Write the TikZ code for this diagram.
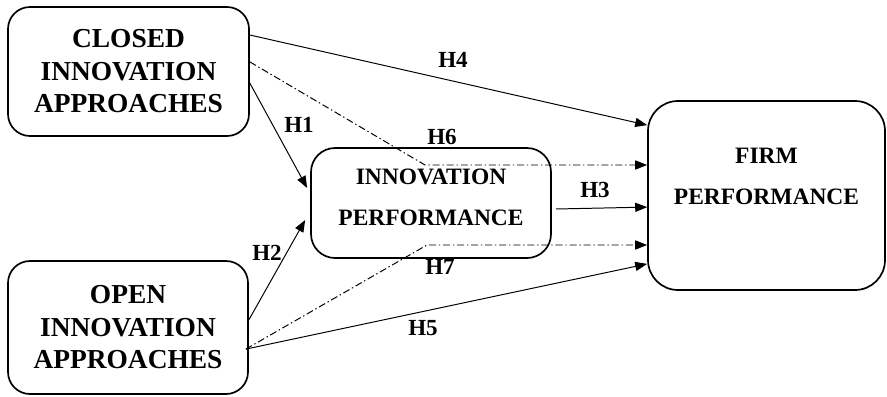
\documentclass[tikz,border=0pt]{standalone}
\usepackage{fontspec}
\setmainfont{Liberation Serif}
\usetikzlibrary{positioning,arrows.meta,calc}

\begin{document}
\begin{tikzpicture}[
  box/.style={draw, line width=1.2pt, inner sep=0pt, align=center},
  big/.style={font=\fontsize{19.5}{23.1}\selectfont\bfseries},
  mid/.style={font=\fontsize{16.7}{29}\selectfont\bfseries, align=center, inner sep=0pt},
  hyp/.style={font=\fontsize{16.4}{18}\selectfont\bfseries, inner sep=0pt},
  link/.style={-{Triangle[length=8.5pt,width=6.5pt]}, line width=0.7pt},
  dotlink/.style={link, dash pattern=on 5pt off 2pt on 1pt off 2pt}
]
% page frame (top-left origin, y runs downward)
\useasboundingbox (0,0) rectangle (22.175,-9.9);

% Independent constructs (left column)
\node[box, big, rounded corners=0.55cm, minimum width=6.025cm, minimum height=3.225cm] (closed) at (3.2125,-1.7875)
  {CLOSED\\INNOVATION\\APPROACHES};
\node[box, big, rounded corners=0.55cm, minimum width=6.0cm, minimum height=3.325cm] (open) at (3.2,-8.1875)
  {OPEN\\INNOVATION\\APPROACHES};

% Mediator and outcome
\node[box, rounded corners=0.6cm, minimum width=6.0cm, minimum height=2.75cm] (inno) at (10.775,-5.075) {};
\node[mid] (innolbl) at ([yshift=0.15cm]inno.center) {INNOVATION\\PERFORMANCE};

\node[box, rounded corners=0.75cm, minimum width=5.925cm, minimum height=4.725cm] (firm) at (19.1625,-4.8875) {};
\node[mid] (firmlbl) at ([yshift=0.475cm]firm.center) {FIRM\\PERFORMANCE};

% bend points of the indirect paths
\coordinate (h6bend) at (10.625,-4.125);
\coordinate (h7bend) at (10.675,-6.125);

% direct paths
\draw[link] ([yshift=0.9125cm]closed.east) -- ([yshift=1.76cm]firm.west);
\draw[link] ([yshift=-0.29cm]closed.east) -- ([xshift=-0.075cm,yshift=0.375cm]inno.west);
\draw[link] ([yshift=0.19cm]open.east) -- ([xshift=-0.125cm,yshift=-0.425cm]inno.west);
\draw[link] ([xshift=0.1cm,yshift=-0.15cm]inno.east) -- ([yshift=-0.29cm]firm.west);
\draw[link] ([xshift=-0.075cm,yshift=-0.54cm]open.east) -- ([yshift=-1.71cm]firm.west);

% indirect paths through the mediator
\draw[dotlink] ([yshift=0.24cm]closed.east) -- (h6bend) -- (h6bend -| firm.west);
\draw[dotlink] ([xshift=-0.075cm,yshift=-0.54cm]open.east) -- (h7bend) -- (h7bend -| firm.west);

% hypothesis labels
\node[hyp] (h1) at (7.475,-3.125) {H1};
\node[hyp] (h2) at (6.675,-6.325) {H2};
\node[hyp] (h3) at (14.875,-4.75) {H3};
\node[hyp] (h4) at (11.325,-1.5) {H4};
\node[hyp] (h5) at (10.575,-8.2) {H5};
\node[hyp] (h6) at (11.05,-3.425) {H6};
\node[hyp] (h7) at (11.0,-6.675) {H7};

\end{tikzpicture}
\end{document}
